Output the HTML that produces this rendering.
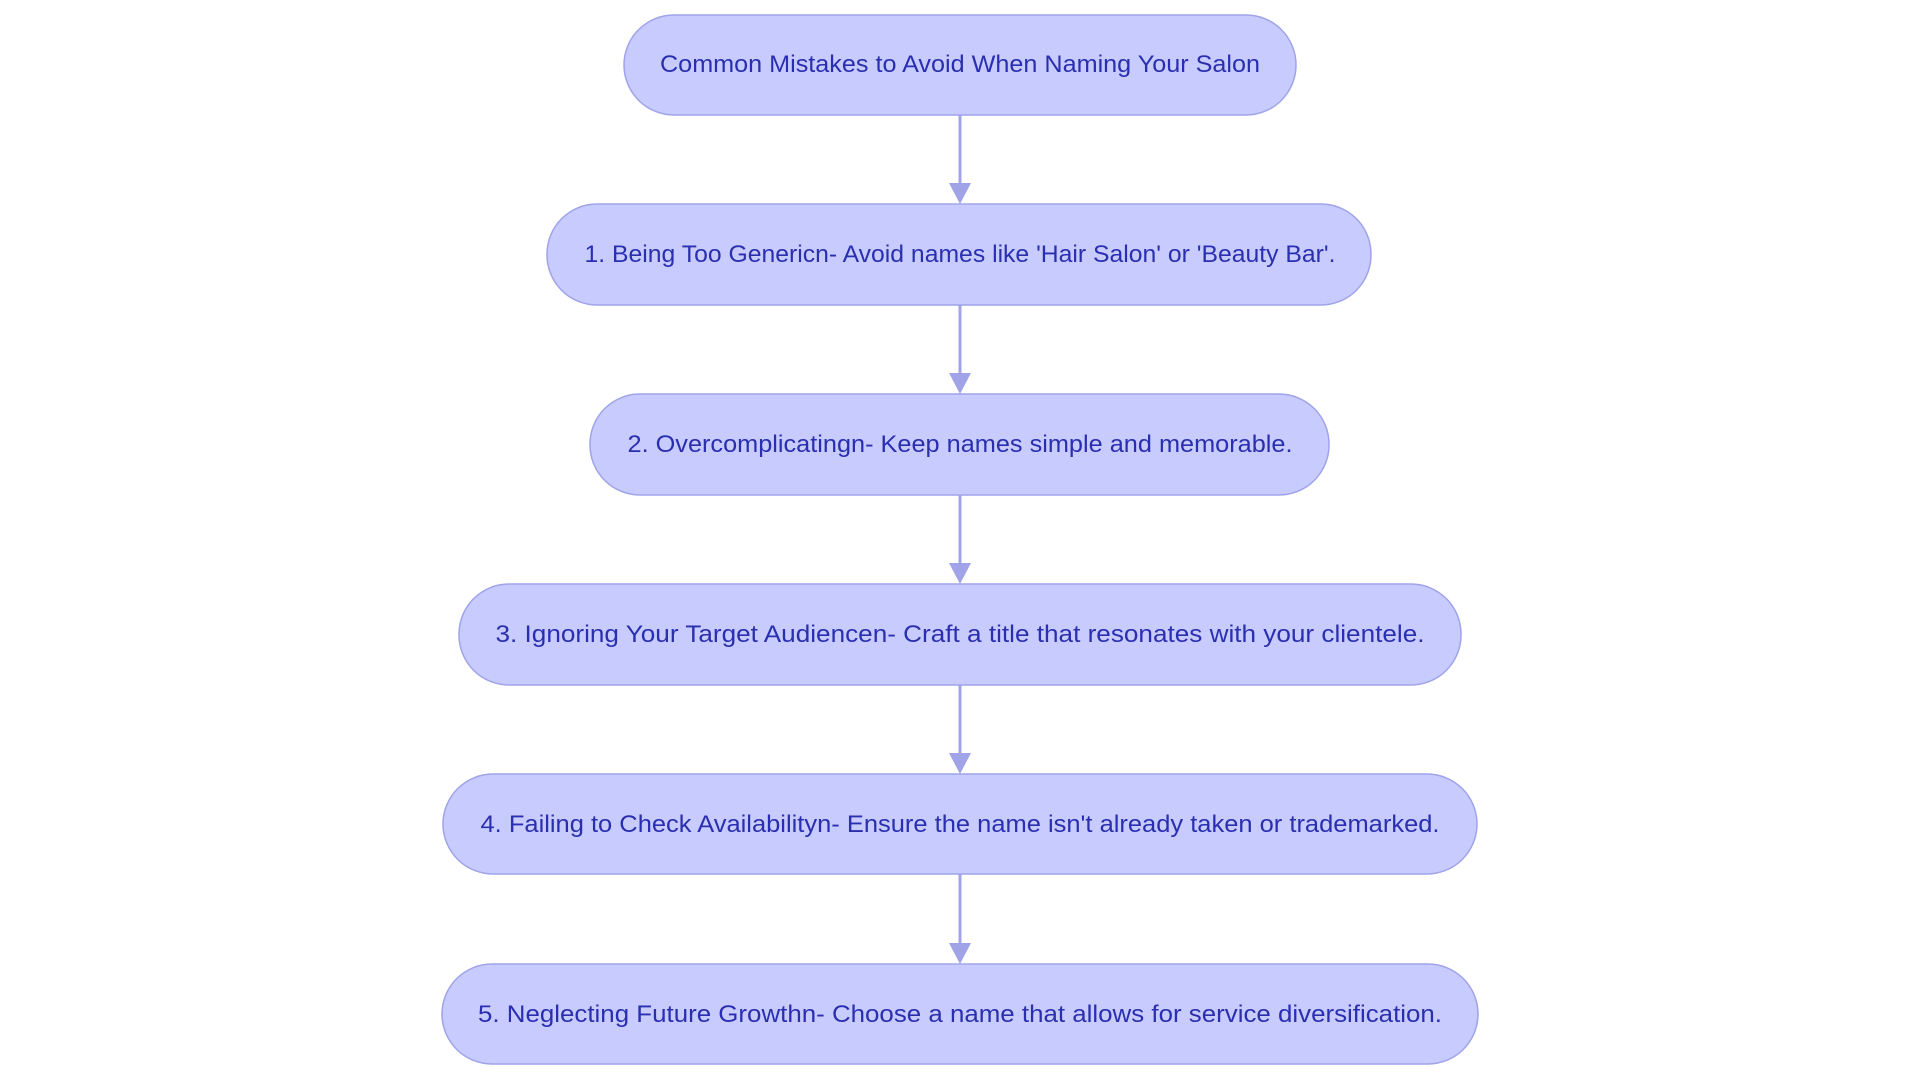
<!DOCTYPE html>
<html><head><meta charset="utf-8"><style>html,body{margin:0;padding:0;background:#fff;}svg{display:block}</style></head>
<body>
<svg width="1920" height="1083" viewBox="0 0 1920 1083" xmlns="http://www.w3.org/2000/svg">
<defs><marker id="a" viewBox="0 0 10 10" refX="10" refY="5" markerWidth="6" markerHeight="6" markerUnits="userSpaceOnUse" orient="auto"></marker></defs>
<g stroke="#a0a3e8" stroke-width="3" fill="none">
<line x1="960" y1="115" x2="960" y2="186"/>
<line x1="960" y1="305" x2="960" y2="376"/>
<line x1="960" y1="495" x2="960" y2="566"/>
<line x1="960" y1="685" x2="960" y2="756"/>
<line x1="960" y1="874" x2="960" y2="946"/>
</g>
<g fill="#a0a3e8">
<polygon points="949,183 971,183 960,204"/>
<polygon points="949,373 971,373 960,394"/>
<polygon points="949,563 971,563 960,584"/>
<polygon points="949,753 971,753 960,774"/>
<polygon points="949,943 971,943 960,964"/>
</g>
<g fill="#c8cbfd" stroke="#9fa3ea" stroke-width="1.5">
<rect x="624" y="15" width="672" height="100" rx="50"/>
<rect x="547" y="204" width="824" height="101" rx="50"/>
<rect x="590" y="394" width="739" height="101" rx="50"/>
<rect x="459" y="584" width="1002" height="101" rx="50"/>
<rect x="443" y="774" width="1034" height="100" rx="50"/>
<rect x="442" y="964" width="1036" height="100" rx="50"/>
</g>
<g fill="#2a2fb0" font-family="Liberation Sans, sans-serif" font-size="24" text-anchor="middle" lengthAdjust="spacingAndGlyphs">
<text x="960" y="72" textLength="600" lengthAdjust="spacingAndGlyphs">Common Mistakes to Avoid When Naming Your Salon</text>
<text x="960" y="262" textLength="751" lengthAdjust="spacingAndGlyphs">1. Being Too Genericn- Avoid names like 'Hair Salon' or 'Beauty Bar'.</text>
<text x="960" y="452" textLength="665" lengthAdjust="spacingAndGlyphs">2. Overcomplicatingn- Keep names simple and memorable.</text>
<text x="960" y="642" textLength="929" lengthAdjust="spacingAndGlyphs">3. Ignoring Your Target Audiencen- Craft a title that resonates with your clientele.</text>
<text x="960" y="832" textLength="959" lengthAdjust="spacingAndGlyphs">4. Failing to Check Availabilityn- Ensure the name isn't already taken or trademarked.</text>
<text x="960" y="1022" textLength="964" lengthAdjust="spacingAndGlyphs">5. Neglecting Future Growthn- Choose a name that allows for service diversification.</text>
</g>
</svg>
</body></html>
